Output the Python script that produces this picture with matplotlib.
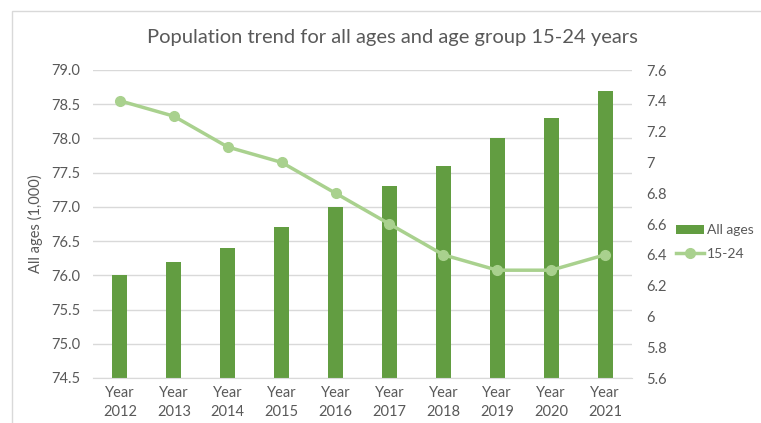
import numpy as np
import matplotlib.pyplot as plt
from matplotlib.patches import Rectangle

# data
years = ['2012', '2013', '2014', '2015', '2016', '2017', '2018', '2019', '2020', '2021']
all_ages = [76.0, 76.2, 76.4, 76.7, 77.0, 77.3, 77.6, 78.0, 78.3, 78.7]
age_15_24 = [7.4, 7.3, 7.1, 7.0, 6.8, 6.6, 6.4, 6.3, 6.3, 6.4]
left_ticks = [74.5, 75.0, 75.5, 76.0, 76.5, 77.0, 77.5, 78.0, 78.5, 79.0]
right_ticks = [5.6, 5.8, 6.0, 6.2, 6.4, 6.6, 6.8, 7.0, 7.2, 7.4, 7.6]

bar_color = '#629D41'
line_color = '#A9D18E'
text_color = '#595959'
grid_color = '#D9D9D9'

plt.rcParams['font.family'] = ['Lato', 'DejaVu Sans']

fig = plt.figure(figsize=(7.61, 4.23), dpi=100)
fig.patches.append(Rectangle((12 / 761, -0.1), 1.2, 1.1 - 11 / 423, transform=fig.transFigure,
                             fill=False, edgecolor='#D9D9D9', linewidth=1))

ax = fig.add_axes([93 / 761, 45 / 423, 539 / 761, 308 / 423])
x = np.arange(len(years))
ax.bar(x, [v - left_ticks[0] for v in all_ages], bottom=left_ticks[0], width=0.28,
       color=bar_color, label='All ages', zorder=2)
ax.set_xlim(-0.5, len(years) - 0.5)
ax.set_ylim(left_ticks[0], left_ticks[-1])
ax.set_yticks(left_ticks)
ax.set_yticklabels(['%.1f' % t for t in left_ticks])
ax.set_xticks(x)
ax.set_xticklabels(['Year\n' + y for y in years], linespacing=1.45)
ax.grid(axis='y', color=grid_color, linewidth=1, zorder=0)
ax.set_ylabel('All ages (1,000)', color=text_color, fontsize=10.5, labelpad=6)
for s in ax.spines.values():
    s.set_visible(False)
ax.spines['bottom'].set_visible(True)
ax.spines['bottom'].set_color(grid_color)
ax.tick_params(length=0, colors=text_color, labelsize=10.5, pad=9)
ax.tick_params(axis='x', pad=6)

ax2 = ax.twinx()
ax2.plot(x, age_15_24, color=line_color, linewidth=2.5, marker='o', markersize=7,
         label='15-24', zorder=3)
ax2.set_ylim(right_ticks[0], right_ticks[-1])
ax2.set_yticks(right_ticks)
ax2.set_yticklabels([('%.1f' % t).rstrip('0').rstrip('.') for t in right_ticks])
for s in ax2.spines.values():
    s.set_visible(False)
ax2.tick_params(length=0, colors=text_color, labelsize=10.5, pad=10)

h1, l1 = ax.get_legend_handles_labels()
h2, l2 = ax2.get_legend_handles_labels()
fig.legend(h1 + h2, l1 + l2, loc='center left', bbox_to_anchor=(676 / 761, 1 - 242 / 423),
           frameon=False, fontsize=10, labelcolor=text_color, handlelength=2.0,
           handletextpad=0.2, labelspacing=0.8, borderpad=0, borderaxespad=0)

fig.text(392 / 761, 1 - 38 / 423, 'Population trend for all ages and age group 15-24 years',
         ha='center', va='center', fontsize=14.5, color=text_color)

fig.savefig('out.png', dpi=100)
